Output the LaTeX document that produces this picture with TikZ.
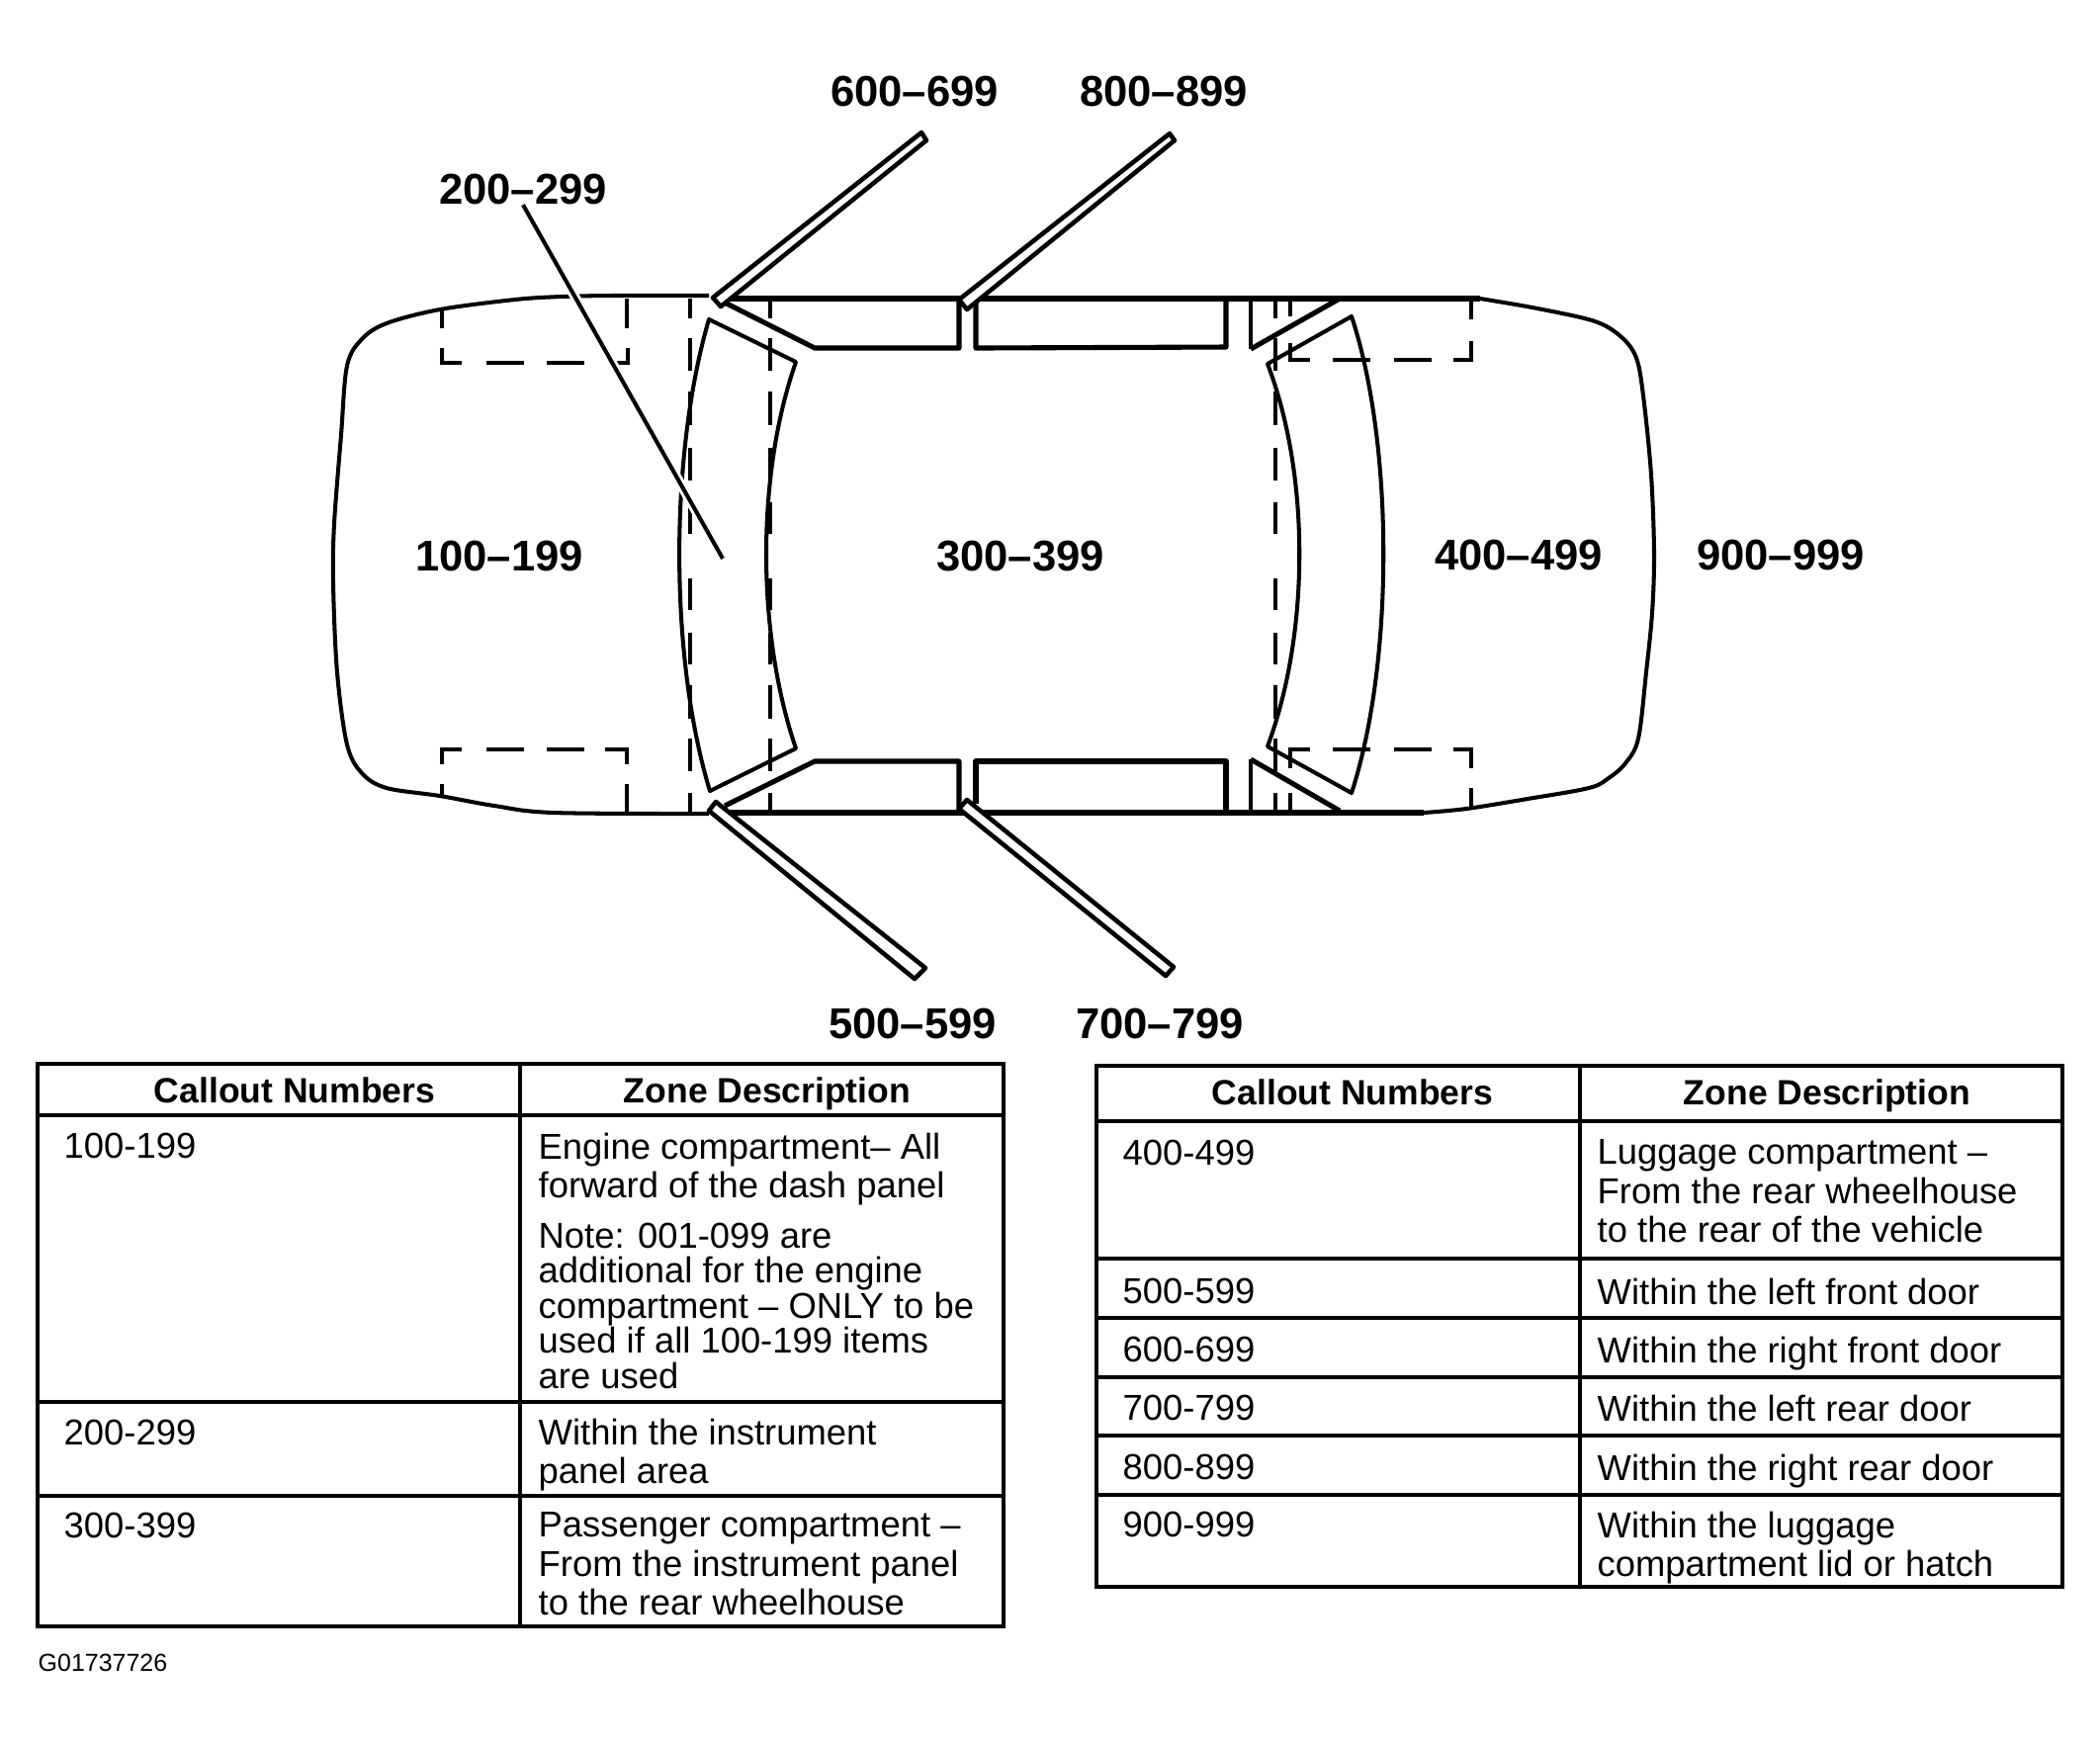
\documentclass[tikz,border=0pt]{standalone}
\usepackage{fontspec}
\setmainfont{Liberation Sans}
\usetikzlibrary{calc}
\tikzset{
  carline/.style={line width=1.15pt,line join=round},
  heavyline/.style={line width=1.45pt,line join=round},
  barline/.style={line width=1.3pt,line join=round,fill=white},
  dashseg/.style={line width=1.3pt},
  tableline/.style={line width=1pt},
  zonelabel/.style={font=\fontsize{12.4}{14}\selectfont\bfseries,inner sep=0pt},
  headcell/.style={font=\fontsize{10.1}{12}\selectfont\bfseries,inner sep=0pt,anchor=base},
  bodycell/.style={font=\fontsize{10.35}{11.2}\selectfont,align=left,anchor=north west,inner sep=0pt},
  notecell/.style={bodycell,font=\fontsize{10.35}{10.1}\selectfont}
}
\begin{document}
\begin{tikzpicture}[x=0.01cm,y=-0.01cm]
\useasboundingbox (0,0) rectangle (2124,1765);
% body outline
\draw[carline] plot[smooth,tension=0.55] coordinates {(717,299) (620,299) (568,300) (521,303) (445,313) (391,327) (366,343) (351,370) (345,440) (338,530) (337,590) (341,680) (351,753) (366,782) (391,797) (445,805) (500,815) (560,822) (717,823)};
\draw[carline] plot[smooth,tension=0.55] coordinates {(1497,302) (1555,312) (1613,325) (1640,341) (1655,362) (1662,400) (1670,480) (1673,560) (1671,620) (1665,680) (1657,747) (1644,772) (1627,787) (1607,797) (1545,808) (1483,818) (1440,822)};
\draw[heavyline] (729,302) -- (1497,302);
\draw[heavyline] (735,822) -- (1440,822);
% doors
\draw[heavyline] (731,305) -- (824,352) -- (970,352) -- (970,302);
\draw[heavyline] (733,815) -- (824,770) -- (970,770) -- (970,822);
\draw[heavyline] (987,305) -- (987,352) -- (1240,351) -- (1240,302);
\draw[heavyline] (987,813) -- (987,770) -- (1240,770) -- (1240,822);
\draw[carline] (1265,303) -- (1265,353);
\draw[heavyline] (1265,353) -- (1355,302);
\draw[carline] (1265,822) -- (1265,768);
\draw[heavyline] (1265,768) -- (1355,820);
% windows
\draw[carline] (717,323) -- (805,366) .. controls (765,480) and (765,640) .. (805,757) -- (718,800) .. controls (677,665) and (677,460) .. cycle;
\draw[carline] (1367,320) -- (1282,368) .. controls (1325,480) and (1325,640) .. (1282,755) -- (1367,802) .. controls (1410,670) and (1410,450) .. cycle;
% dashed zone lines
\foreach \x in {698,779,1290} {
  \foreach \a/\b in {302/322,342/375,396/430,453/486,508/540,585/617,640/672,693/727,747/780,802/822} {
    \draw[dashseg] (\x,\a) -- (\x,\b);
  }
}
\draw[dashseg] (1305,303) -- (1305,320); \draw[dashseg] (1305,802) -- (1305,820);
% dashed boxes
\draw[dashseg] (447,313) -- (447,332); \draw[dashseg] (447,793) -- (447,806);
\draw[dashseg] (634,302) -- (634,332); \draw[dashseg] (634,793) -- (634,821);
\draw[dashseg] (1488,303) -- (1488,323); \draw[dashseg] (1488,797) -- (1488,818);
\draw[dashseg] (447,352) -- (447,367) -- (467,367); \draw[dashseg] (492,367) -- (530,367);
\draw[dashseg] (553,367) -- (591,367); \draw[dashseg] (621,367) -- (635,367) -- (635,352);
\draw[dashseg] (447,773) -- (447,758) -- (467,758); \draw[dashseg] (492,758) -- (530,758);
\draw[dashseg] (553,758) -- (591,758); \draw[dashseg] (612,758) -- (634,758) -- (634,773);
\draw[dashseg] (1305,347) -- (1305,364) -- (1325,364); \draw[dashseg] (1348,364) -- (1386,364);
\draw[dashseg] (1410,364) -- (1448,364); \draw[dashseg] (1470,364) -- (1488,364) -- (1488,345);
\draw[dashseg] (1305,777) -- (1305,758) -- (1325,758); \draw[dashseg] (1348,758) -- (1386,758);
\draw[dashseg] (1410,758) -- (1448,758); \draw[dashseg] (1470,758) -- (1488,758) -- (1488,777);
% door callout bars
\draw[barline] (721,301) -- (729,310) -- (937,142) -- (932,134) -- cycle;
\draw[barline] (970,303) -- (978,313) -- (1188,142) -- (1183,135) -- cycle;
\draw[barline] (724,811) -- (717,820) -- (925,990) -- (936,979) -- cycle;
\draw[barline] (978,809) -- (970,818) -- (1179,987) -- (1187,978) -- cycle;
% zone labels
\node[zonelabel] (zoneA) at (505,562) {100–199};
\node[zonelabel] (zoneB) at (529,191) {200–299};
\node[zonelabel] (zoneC) at (1032,562) {300–399};
\node[zonelabel] (zoneD) at (1536,561) {400–499};
\node[zonelabel] (zoneE) at (923,1035) {500–599};
\node[zonelabel] (zoneF) at (925,92) {600–699};
\node[zonelabel] (zoneG) at (1173,1035) {700–799};
\node[zonelabel] (zoneH) at (1177,92) {800–899};
\node[zonelabel] (zoneI) at (1801,561) {900–999};
\coordinate (dashPt) at (731,565);
\draw[white,line width=2.8pt] ($(zoneB.south)!0.12!(dashPt)$) -- (dashPt);
\draw[carline] (zoneB.south) -- (dashPt);
% left table
\draw[tableline] (38,1076) rectangle (1015,1645);
\draw[tableline] (526,1076) -- (526,1645);
\foreach \y in {1128,1418,1513} { \draw[tableline] (38,\y) -- (1015,\y); }
\node[headcell] (headA) at (298,1115) {Callout Numbers};
\node[headcell] (headB) at (776,1115) {Zone Description};
\node[bodycell] (numA) at (64,1145) {100-199};
\node[bodycell] (txtA) at (544,1145) {Engine compartment– All\\forward of the dash panel};
\node[notecell] (noteA) at (544,1236) {Note: 001-099 are\\additional for the engine\\compartment – ONLY to be\\used if all 100-199 items\\are used};
\node[bodycell] (numB) at (64,1435) {200-299};
\node[bodycell] (txtB) at (544,1434) {Within the instrument\\panel area};
\node[bodycell] (numC) at (64,1529) {300-399};
\node[bodycell] (txtC) at (544,1529) {Passenger compartment –\\From the instrument panel\\to the rear wheelhouse};
% right table
\draw[tableline] (1109,1078) rectangle (2086,1605);
\draw[tableline] (1598,1078) -- (1598,1605);
\foreach \y in {1134,1273,1333,1393,1452,1512} { \draw[tableline] (1109,\y) -- (2086,\y); }
\node[headcell] (headC) at (1368,1117) {Callout Numbers};
\node[headcell] (headD) at (1848,1117) {Zone Description};
\node[bodycell] (numD) at (1135,1152) {400-499};
\node[bodycell] (txtD) at (1615,1152) {Luggage compartment –\\From the rear wheelhouse\\to the rear of the vehicle};
\node[bodycell] (numE) at (1135,1292) {500-599};
\node[bodycell] (txtE) at (1615,1292) {Within the left front door};
\node[bodycell] (numF) at (1135,1351) {600-699};
\node[bodycell] (txtF) at (1615,1351) {Within the right front door};
\node[bodycell] (numG) at (1135,1410) {700-799};
\node[bodycell] (txtG) at (1615,1410) {Within the left rear door};
\node[bodycell] (numH) at (1135,1470) {800-899};
\node[bodycell] (txtH) at (1615,1470) {Within the right rear door};
\node[bodycell] (numI) at (1135,1528) {900-999};
\node[bodycell] (txtI) at (1615,1528) {Within the luggage\\compartment lid or hatch};
\node[font=\fontsize{7.1}{9}\selectfont,anchor=west,inner sep=0pt] (figId) at (38,1682) {G01737726};
\end{tikzpicture}
\end{document}
